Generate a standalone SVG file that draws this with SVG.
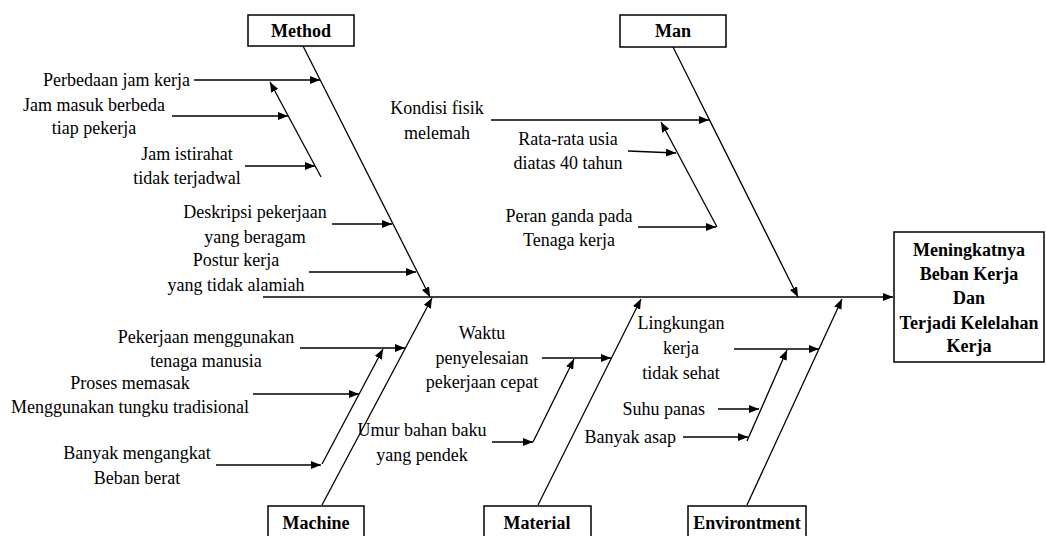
<svg xmlns="http://www.w3.org/2000/svg" width="1046" height="536" viewBox="0 0 1046 536">
<defs>
<marker id="ah" markerUnits="userSpaceOnUse" markerWidth="11" markerHeight="8" refX="10" refY="4" orient="auto">
<path d="M0,0 L10,4 L0,8 z" fill="#000"/>
</marker>
<style>
.bx{fill:#fff;stroke:#000;stroke-width:1.5}
text{font-family:'Liberation Serif','Tinos','DejaVu Serif',serif;font-size:18px;fill:#000}
.hd{font-weight:bold;text-anchor:middle}
.t{text-anchor:middle}
.te{text-anchor:end}
.ar{stroke:#000;stroke-width:1.3;fill:none;marker-end:url(#ah)}
</style>
</defs>
<rect width="1046" height="536" fill="#fff"/>

<g id="connectors">
<line class="ar" x1="263" y1="297" x2="893" y2="297"/>
<line class="ar" x1="303" y1="46" x2="430" y2="297"/>
<line class="ar" x1="194" y1="80" x2="320" y2="80"/>
<line class="ar" x1="321" y1="177" x2="270" y2="82"/>
<line class="ar" x1="172" y1="116" x2="288" y2="116"/>
<line class="ar" x1="245" y1="166" x2="315" y2="166"/>
<line class="ar" x1="332" y1="224" x2="392" y2="224"/>
<line class="ar" x1="309" y1="272" x2="416" y2="272"/>
<line class="ar" x1="673" y1="47" x2="798" y2="297"/>
<line class="ar" x1="491" y1="120" x2="709" y2="120"/>
<line class="ar" x1="717" y1="227" x2="661" y2="122"/>
<line class="ar" x1="628" y1="151" x2="676" y2="153"/>
<line class="ar" x1="638" y1="227" x2="716" y2="227"/>
<line class="ar" x1="322" y1="505" x2="432" y2="298"/>
<line class="ar" x1="300" y1="348" x2="405" y2="348"/>
<line class="ar" x1="322" y1="464" x2="383" y2="349"/>
<line class="ar" x1="253" y1="394" x2="359" y2="394"/>
<line class="ar" x1="216" y1="465" x2="321" y2="465"/>
<line class="ar" x1="538" y1="505" x2="641" y2="299"/>
<line class="ar" x1="542" y1="358" x2="611" y2="358"/>
<line class="ar" x1="533" y1="442" x2="574" y2="359"/>
<line class="ar" x1="492" y1="442" x2="533" y2="442"/>
<line class="ar" x1="747" y1="505" x2="842" y2="299"/>
<line class="ar" x1="734" y1="349" x2="819" y2="349"/>
<line class="ar" x1="747" y1="441" x2="787" y2="350"/>
<line class="ar" x1="718" y1="409" x2="759" y2="409"/>
<line class="ar" x1="683" y1="437" x2="748" y2="437"/>
</g>

<g id="method">
<rect class="bx" x="248" y="15" width="106" height="31"/>
<text class="hd" x="301" y="37">Method</text>
</g>
<g id="man">
<rect class="bx" x="620" y="15" width="106" height="32"/>
<text class="hd" x="673" y="37">Man</text>
</g>
<g id="machine">
<rect class="bx" x="268" y="506" width="96" height="40"/>
<text class="hd" x="316" y="529">Machine</text>
</g>
<g id="material">
<rect class="bx" x="484" y="506" width="107" height="40"/>
<text class="hd" x="537" y="529">Material</text>
</g>
<g id="environment">
<rect class="bx" x="688" y="506" width="118" height="40"/>
<text class="hd" x="747" y="529">Environtment</text>
</g>
<g id="effect">
<rect class="bx" x="894" y="232" width="150" height="130"/>
<text class="hd" x="969" y="256">Meningkatnya</text>
<text class="hd" x="969" y="280">Beban Kerja</text>
<text class="hd" x="969" y="304">Dan</text>
<text class="hd" x="969" y="329">Terjadi Kelelahan</text>
<text class="hd" x="969" y="352">Kerja</text>
</g>

<g id="cause-perbedaan"><text class="te" x="190" y="86">Perbedaan jam kerja</text></g>
<g id="cause-jam-masuk"><text class="t" x="94" y="111">Jam masuk berbeda</text><text class="t" x="94" y="134">tiap pekerja</text></g>
<g id="cause-jam-istirahat"><text class="t" x="187" y="160">Jam istirahat</text><text class="t" x="187" y="184">tidak terjadwal</text></g>
<g id="cause-deskripsi"><text class="t" x="255" y="218">Deskripsi pekerjaan</text><text class="t" x="255" y="243">yang beragam</text></g>
<g id="cause-postur"><text class="t" x="236" y="266">Postur kerja</text><text class="t" x="236" y="291">yang tidak alamiah</text></g>

<g id="cause-kondisi"><text class="t" x="437" y="114">Kondisi fisik</text><text class="t" x="437" y="139">melemah</text></g>
<g id="cause-usia"><text class="t" x="568" y="145">Rata-rata usia</text><text class="t" x="568" y="169">diatas 40 tahun</text></g>
<g id="cause-peran"><text class="t" x="569" y="222">Peran ganda pada</text><text class="t" x="569" y="246">Tenaga kerja</text></g>

<g id="cause-pekerjaan"><text class="t" x="206" y="343">Pekerjaan menggunakan</text><text class="t" x="206" y="367">tenaga manusia</text></g>
<g id="cause-proses"><text class="t" x="130" y="389">Proses memasak</text><text class="t" x="130" y="413">Menggunakan tungku tradisional</text></g>
<g id="cause-banyak-mengangkat"><text class="t" x="137" y="459">Banyak mengangkat</text><text class="t" x="137" y="484">Beban berat</text></g>

<g id="cause-waktu"><text class="t" x="482" y="339">Waktu</text><text class="t" x="482" y="364">penyelesaian</text><text class="t" x="482" y="388">pekerjaan cepat</text></g>
<g id="cause-umur"><text class="t" x="422" y="436">Umur bahan baku</text><text class="t" x="422" y="461">yang pendek</text></g>

<g id="cause-lingkungan"><text class="t" x="681" y="329">Lingkungan</text><text class="t" x="681" y="354">kerja</text><text class="t" x="681" y="379">tidak sehat</text></g>
<g id="cause-suhu"><text class="te" x="705" y="415">Suhu panas</text></g>
<g id="cause-asap"><text class="te" x="676" y="443">Banyak asap</text></g>
</svg>
